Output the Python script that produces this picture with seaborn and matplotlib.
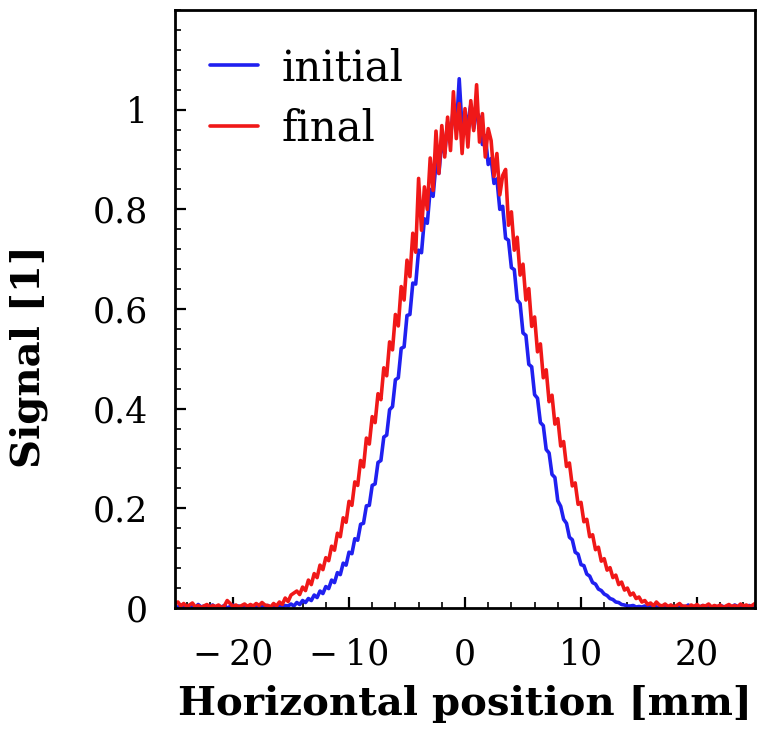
import numpy as np
import pandas as pd
import matplotlib
matplotlib.use("Agg")
import matplotlib.pyplot as plt
import seaborn as sns
from matplotlib.ticker import MultipleLocator, FuncFormatter

# ---------------- data ----------------
x_start = -25.0          # first scan position [mm]
x_step = 0.25            # scan step [mm]

initial = [
    0.004, 0.001, 0.006, 0.002, 0.000, 0.005, 0.003, 0.001, 0.007, 0.002,
    0.004, 0.000, 0.003, 0.006, 0.001, 0.004, 0.002, 0.005, 0.000, 0.003,
    0.006, 0.002, 0.004, 0.001, 0.005, 0.003, 0.000, 0.004, 0.002, 0.006,
    0.003, 0.001, 0.005, 0.002, 0.004, 0.003, 0.006, 0.002, 0.005, 0.004,
    0.008, 0.004, 0.011, 0.007, 0.015, 0.011, 0.019, 0.015, 0.026, 0.021,
    0.034, 0.029, 0.043, 0.039, 0.056, 0.051, 0.071, 0.067, 0.090, 0.086,
    0.112, 0.109, 0.139, 0.136, 0.168, 0.170, 0.205, 0.206, 0.246, 0.249,
    0.292, 0.296, 0.343, 0.347, 0.398, 0.404, 0.458, 0.462, 0.521, 0.524,
    0.587, 0.589, 0.652, 0.650, 0.718, 0.713, 0.781, 0.772, 0.840, 0.826,
    0.893, 0.872, 0.938, 0.912, 0.975, 0.943, 1.005, 0.958, 1.062, 0.962,
    0.991,
    0.975, 1.010, 0.962, 0.995, 0.985, 0.930, 0.948, 0.890, 0.902, 0.852,
    0.861, 0.800, 0.806, 0.742, 0.738, 0.683, 0.679, 0.618, 0.611, 0.552,
    0.547, 0.489, 0.484, 0.428, 0.421, 0.372, 0.366, 0.318, 0.311, 0.268,
    0.262, 0.215, 0.204, 0.178, 0.170, 0.142, 0.137, 0.112, 0.108, 0.087,
    0.085, 0.068, 0.064, 0.051, 0.048, 0.038, 0.035, 0.028, 0.025, 0.019,
    0.017, 0.012, 0.011, 0.007, 0.006, 0.004, 0.004, 0.005, 0.002, 0.003,
    0.002, 0.004, 0.001, 0.003, 0.005, 0.002, 0.000, 0.003, 0.004, 0.001,
    0.005, 0.002, 0.003, 0.000, 0.004, 0.002, 0.006, 0.001, 0.003, 0.004,
    0.002, 0.005, 0.001, 0.003, 0.000, 0.004, 0.002, 0.005, 0.003, 0.001,
    0.004, 0.002, 0.006, 0.003, 0.001, 0.004, 0.002, 0.005, 0.003, 0.002,
]

final = [
    0.008, 0.012, 0.004, 0.009, 0.003, 0.006, 0.010, 0.002, 0.005, 0.001,
    0.004, 0.007, 0.002, 0.005, 0.003, 0.006, 0.001, 0.004, 0.015, 0.009,
    0.003, 0.006, 0.002, 0.005, 0.008, 0.003, 0.007, 0.004, 0.009, 0.005,
    0.011, 0.006,
    0.005, 0.002, 0.009, 0.004, 0.012, 0.007, 0.020, 0.013, 0.026, 0.030,
    0.034, 0.027, 0.042, 0.035, 0.056, 0.047, 0.069, 0.061, 0.086, 0.077,
    0.101, 0.095, 0.124, 0.116, 0.150, 0.143, 0.181, 0.172, 0.214, 0.206,
    0.253, 0.246, 0.296, 0.283, 0.341, 0.329, 0.384, 0.372, 0.430, 0.418,
    0.482, 0.466, 0.534, 0.518, 0.589, 0.566, 0.645, 0.618, 0.698, 0.665,
    0.752, 0.714, 0.862, 0.758, 0.845, 0.800, 0.903, 0.838, 0.957, 0.872,
    0.968, 0.905, 0.985, 0.918, 1.036, 0.942, 1.012, 0.912, 1.002,
    0.925, 1.018, 0.958, 1.050, 0.935, 0.992, 0.905, 0.962, 0.938, 0.866,
    0.912, 0.829, 0.868, 0.880, 0.768, 0.795, 0.718, 0.744, 0.668, 0.690,
    0.618, 0.641, 0.565, 0.584, 0.514, 0.530, 0.462, 0.478, 0.414, 0.427,
    0.369, 0.380, 0.325, 0.334, 0.284, 0.291, 0.245, 0.251, 0.208, 0.212,
    0.173, 0.178, 0.143, 0.147, 0.117, 0.122, 0.094, 0.099, 0.076, 0.081,
    0.061, 0.066, 0.047, 0.052, 0.036, 0.040, 0.026, 0.030, 0.019, 0.022,
    0.012, 0.015, 0.007, 0.010, 0.004, 0.012, 0.006, 0.004,
    0.008, 0.003, 0.006, 0.002, 0.005, 0.009, 0.003, 0.004, 0.001, 0.006,
    0.003, 0.007, 0.002, 0.005, 0.004, 0.008, 0.002, 0.005, 0.003, 0.006,
    0.001, 0.004, 0.007, 0.003, 0.005, 0.002, 0.008, 0.004, 0.006, 0.003,
    0.005, 0.009,
]

series_names = ["initial", "final"]
series_colors = ["#2020f0", "#f01818"]
x_label = "Horizontal position [mm]"
y_label = "Signal [1]"
x_ticks = [-20, -10, 0, 10, 20]
y_ticks = [0, 0.2, 0.4, 0.6, 0.8, 1.0]
x_limits = (-25, 25)
y_limits = (0, 1.2)

# ---------------- build long table ----------------
df = pd.concat([
    pd.DataFrame({"x": x_start + x_step * np.arange(len(initial)),
                  "signal": initial, "series": series_names[0]}),
    pd.DataFrame({"x": x_start + x_step * np.arange(len(final)),
                  "signal": final, "series": series_names[1]}),
], ignore_index=True)

# ---------------- style ----------------
sns.set_theme(style="white")
plt.rcParams["font.family"] = ["DejaVu Serif"]
for key in ["text.color", "axes.labelcolor", "xtick.color", "ytick.color",
            "axes.edgecolor"]:
    plt.rcParams[key] = "black"

fig = plt.figure(figsize=(7.69, 7.35), dpi=100)
ax = fig.add_axes([175 / 769, 1 - 608 / 735, 580 / 769, 598 / 735])

sns.lineplot(data=df, x="x", y="signal", hue="series",
             hue_order=series_names,
             palette=dict(zip(series_names, series_colors)),
             estimator=None, sort=True, linewidth=2.6, ax=ax)

ax.set_xlim(*x_limits)
ax.set_ylim(*y_limits)
ax.set_xticks(x_ticks)
ax.set_yticks(y_ticks)
ax.xaxis.set_minor_locator(MultipleLocator(2))
ax.yaxis.set_minor_locator(MultipleLocator(0.04))


def fmt_x(v, p):
    if v < 0:
        return "\u2212\u2009%d" % abs(round(v))
    return "%d" % round(v)


def fmt_y(v, p):
    return "%g" % round(v, 2)


ax.xaxis.set_major_formatter(FuncFormatter(fmt_x))
ax.yaxis.set_major_formatter(FuncFormatter(fmt_y))

ax.tick_params(axis="both", which="major", direction="in", length=8,
               width=1.6, color="black", labelsize=25,
               top=False, right=False, bottom=True, left=True)
ax.tick_params(axis="both", which="minor", direction="in", length=4,
               width=1.2, color="black", top=False, right=False,
               bottom=True, left=True)
ax.tick_params(axis="x", which="major", pad=21)
ax.tick_params(axis="y", which="major", pad=19.5)

for s in ax.spines.values():
    s.set_visible(True)
    s.set_color("black")
    s.set_linewidth(2.0)

ax.set_xlabel(x_label, fontfamily="DejaVu Serif", fontweight="bold",
              fontsize=29)
ax.set_ylabel(y_label, fontfamily="DejaVu Serif", fontweight="bold",
              fontsize=29)
ax.xaxis.set_label_coords(0.5, -0.128)
ax.yaxis.set_label_coords(-0.219, 0.42)

leg = ax.legend(loc="upper left", bbox_to_anchor=(0.06, 0.938),
                frameon=False, fontsize=30, borderaxespad=0, borderpad=0,
                handlelength=1.15, handletextpad=0.58, labelspacing=0.45)
for h in leg.get_lines():
    h.set_linewidth(2.6)

fig.savefig("out.png", dpi=100, facecolor="white")
